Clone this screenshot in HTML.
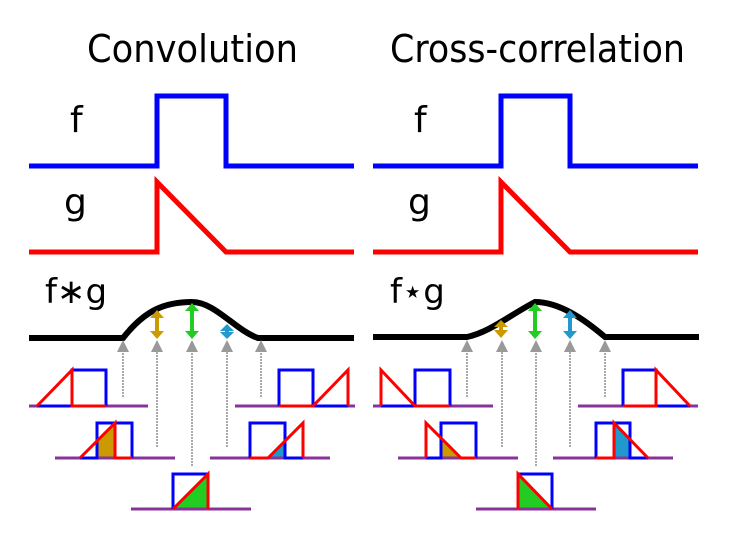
<!DOCTYPE html>
<html><head><meta charset="utf-8"><style>html,body{margin:0;padding:0;background:#fff}svg{display:block}</style></head>
<body>
<svg width="733" height="547" viewBox="0 0 733 547" xmlns="http://www.w3.org/2000/svg" font-family="DejaVu Sans, Liberation Sans, sans-serif">
<defs>
<marker id="ga" markerWidth="6" markerHeight="6" refX="3" refY="3" orient="auto"><path d="M0,0 L6,3 L0,6 Z" fill="#999"/></marker>
</defs>
<rect width="733" height="547" fill="#fff"/>
<text x="87" y="62" font-size="38" textLength="211" lengthAdjust="spacingAndGlyphs">Convolution</text>
<text x="390" y="62" font-size="38" textLength="295" lengthAdjust="spacingAndGlyphs">Cross-correlation</text>

<g id="L">
<text x="70" y="132" font-size="36">f</text>
<text x="64" y="214" font-size="36">g</text>
<polyline points="29,166 157,166 157,96 226,96 226,166 354,166" fill="none" stroke="#00f" stroke-width="5"/>
<polyline points="29,252 157,252 157,182 226,252 354,252" fill="none" stroke="#f00" stroke-width="5"/>
</g>
<g transform="translate(344,0)">
<text x="70" y="132" font-size="36">f</text>
<text x="64" y="214" font-size="36">g</text>
<polyline points="29,166 157,166 157,96 226,96 226,166 354,166" fill="none" stroke="#00f" stroke-width="5"/>
<polyline points="29,252 157,252 157,182 226,252 354,252" fill="none" stroke="#f00" stroke-width="5"/>
</g>

<!-- Convolution result -->
<text x="45" y="303" font-size="34">f∗g</text>
<path d="M29,338 L123,338 C145,310 165,302 192,302 C215,302 235,330 258,338 L354,338" fill="none" stroke="#000" stroke-width="6"/>
<g stroke-width="4">
<line x1="157" y1="316" x2="157" y2="334" stroke="#c90"/><path d="M150,318 L157,310 L164,318Z M150,331 L157,339 L164,331Z" fill="#c90"/>
<line x1="192" y1="308" x2="192" y2="334" stroke="#2c2"/><path d="M185,311 L192,303 L199,311Z M185,331 L192,339 L199,331Z" fill="#2c2"/>
<line x1="227" y1="327" x2="227" y2="334" stroke="#29c"/><path d="M220,331 L227,324 L234,331Z M220,332 L227,339 L234,332Z" fill="#29c"/>
</g>
<g stroke="#aaa" stroke-width="2" stroke-dasharray="2,1">
<line x1="123" y1="397" x2="123" y2="346" marker-end="url(#ga)"/>
<line x1="157" y1="447" x2="157" y2="346" marker-end="url(#ga)"/>
<line x1="192" y1="466" x2="192" y2="346" marker-end="url(#ga)"/>
<line x1="227" y1="447" x2="227" y2="346" marker-end="url(#ga)"/>
<line x1="261" y1="397" x2="261" y2="346" marker-end="url(#ga)"/>
</g>
<g fill="none" stroke-width="3">
<!-- row1 left -->
<line x1="29" y1="406" x2="148" y2="406" stroke="#839"/>
<polyline points="37,406 72,406 72,370 106,370 106,406" stroke="#00f"/>
<polyline points="37,406 72,370 72,406 106,406" stroke="#f00"/>
<!-- row1 right -->
<line x1="235" y1="406" x2="355" y2="406" stroke="#839"/>
<polyline points="279,406 279,370 313,370 313,406 348,406" stroke="#00f"/>
<polyline points="279,406 313,406 348,370 348,406" stroke="#f00"/>
<!-- row2 left -->
<path d="M97,458 L97,440 L115,423 L115,458Z" fill="#c90" stroke="none"/>
<line x1="55" y1="458" x2="175" y2="458" stroke="#839"/>
<polyline points="80,458 97,458 97,423 132,423 132,458" stroke="#00f"/>
<polyline points="80,458 115,423 115,458 132,458" stroke="#f00"/>
<!-- row2 right -->
<path d="M268,458 L285,441 L285,458Z" fill="#29c" stroke="none"/>
<line x1="210" y1="458" x2="330" y2="458" stroke="#839"/>
<polyline points="250,458 250,423 285,423 285,458 303,458" stroke="#00f"/>
<polyline points="250,458 268,458 303,423 303,458" stroke="#f00"/>
<!-- row3 -->
<path d="M173,509 L208,474 L208,509Z" fill="#2c2" stroke="none"/>
<line x1="131" y1="509" x2="251" y2="509" stroke="#839"/>
<polyline points="173,509 173,474 208,474 208,509" stroke="#00f"/>
<polyline points="173,509 208,474 208,509" stroke="#f00"/>
</g>

<!-- Cross-correlation result -->
<text x="390" y="303" font-size="34">f⋆g</text>
<path d="M373,337 L467,337 C490,332 510,315 535,302 C560,302 585,320 605,337 L699,337" fill="none" stroke="#000" stroke-width="6"/>
<g stroke-width="4">
<line x1="501" y1="324" x2="501" y2="334" stroke="#c90"/><path d="M494,327 L501,320 L508,327Z M494,330 L501,338 L508,330Z" fill="#c90"/>
<line x1="535" y1="308" x2="535" y2="334" stroke="#2c2"/><path d="M528,311 L535,303 L542,311Z M528,331 L535,339 L542,331Z" fill="#2c2"/>
<line x1="570" y1="316" x2="570" y2="334" stroke="#29c"/><path d="M563,318 L570,310 L577,318Z M563,331 L570,339 L577,331Z" fill="#29c"/>
</g>
<g stroke="#aaa" stroke-width="2" stroke-dasharray="2,1">
<line x1="467" y1="397" x2="467" y2="346" marker-end="url(#ga)"/>
<line x1="502" y1="447" x2="502" y2="346" marker-end="url(#ga)"/>
<line x1="536" y1="466" x2="536" y2="346" marker-end="url(#ga)"/>
<line x1="570" y1="447" x2="570" y2="346" marker-end="url(#ga)"/>
<line x1="605" y1="397" x2="605" y2="346" marker-end="url(#ga)"/>
</g>
<g fill="none" stroke-width="3">
<line x1="373" y1="406" x2="493" y2="406" stroke="#839"/>
<polyline points="381,406 415,406 415,370 450,370 450,406" stroke="#00f"/>
<polyline points="381,406 381,370 415,406 450,406" stroke="#f00"/>
<line x1="578" y1="406" x2="698" y2="406" stroke="#839"/>
<polyline points="623,406 623,370 656,370 656,406 690,406" stroke="#00f"/>
<polyline points="623,406 656,406 656,370 690,406" stroke="#f00"/>
<path d="M441,458 L441,440 L459,458Z" fill="#c90" stroke="none"/>
<line x1="398" y1="458" x2="518" y2="458" stroke="#839"/>
<polyline points="426,458 441,458 441,423 476,423 476,458" stroke="#00f"/>
<polyline points="426,458 426,423 461,458 476,458" stroke="#f00"/>
<path d="M614,458 L614,423 L630,439 L630,458Z" fill="#29c" stroke="none"/>
<line x1="553" y1="458" x2="673" y2="458" stroke="#839"/>
<polyline points="596,458 596,423 630,423 630,458 648,458" stroke="#00f"/>
<polyline points="596,458 614,458 614,423 648,458" stroke="#f00"/>
<path d="M518,509 L518,474 L552,509Z" fill="#2c2" stroke="none"/>
<line x1="476" y1="509" x2="596" y2="509" stroke="#839"/>
<polyline points="518,509 518,474 552,474 552,509" stroke="#00f"/>
<polyline points="518,509 518,474 552,509" stroke="#f00"/>
</g>
</svg>
</body></html>
